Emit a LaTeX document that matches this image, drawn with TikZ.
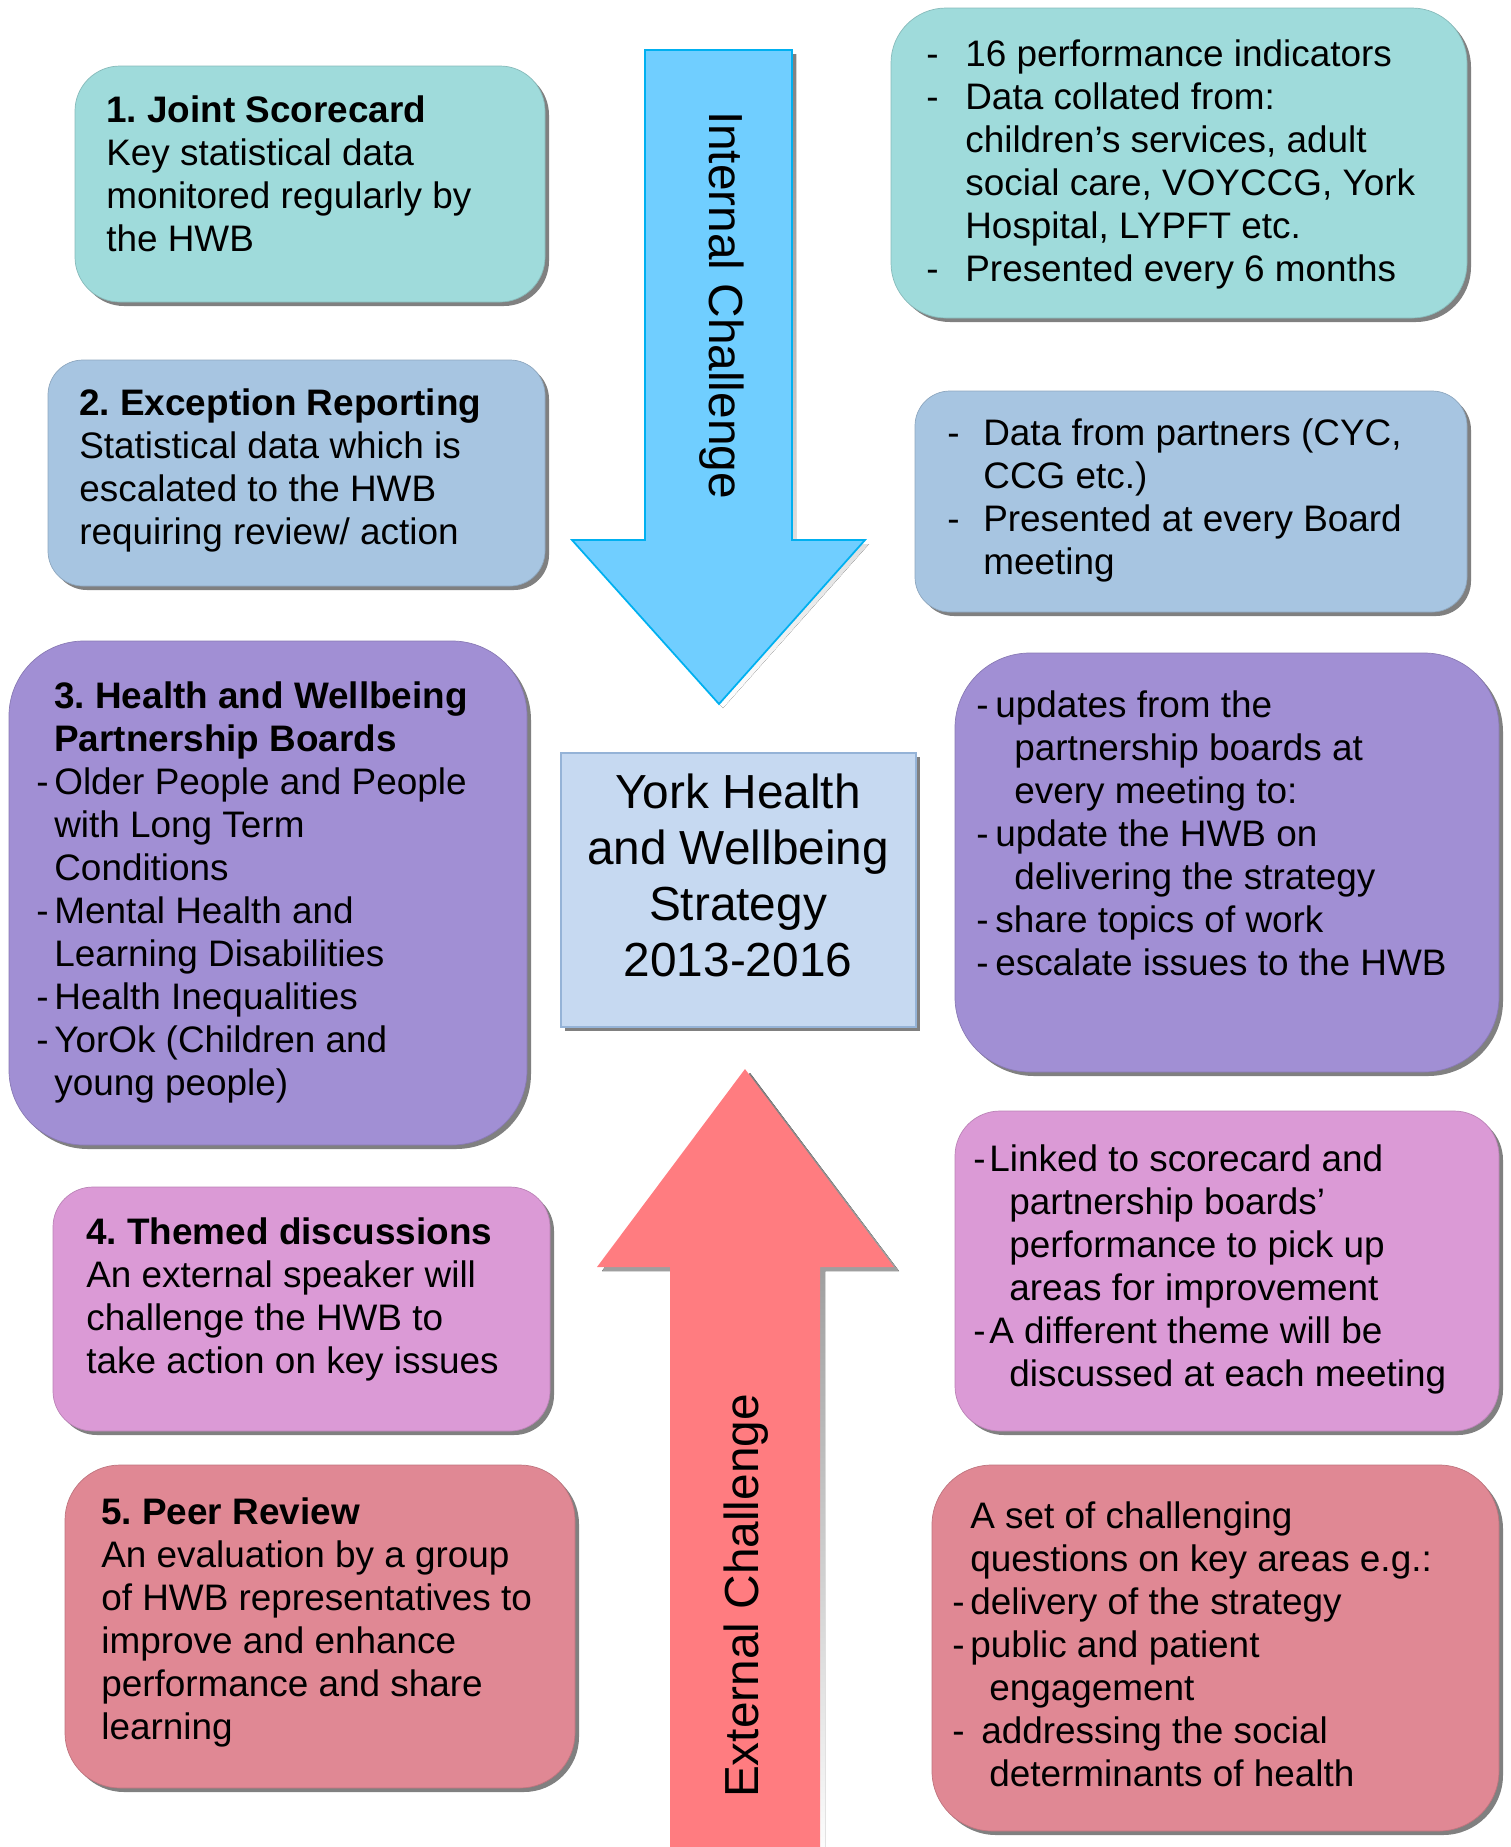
\documentclass[tikz,border=0pt]{standalone}
\usepackage{fontspec}
\setmainfont{Liberation Sans}
\usetikzlibrary{fit,shadows}
\frenchspacing

\definecolor{scoreteal}{RGB}{159,219,219}
\definecolor{excblue}{RGB}{167,197,225}
\definecolor{boardpurple}{RGB}{161,143,212}
\definecolor{themepink}{RGB}{219,154,214}
\definecolor{peerrose}{RGB}{224,136,148}
\definecolor{stratblue}{RGB}{198,217,241}
\definecolor{stratedge}{RGB}{149,179,215}
\definecolor{intblue}{RGB}{112,206,255}
\definecolor{intedge}{RGB}{0,176,240}
\definecolor{extred}{RGB}{255,124,128}
\definecolor{shade}{RGB}{128,128,128}

\newlength{\pu}\setlength{\pu}{0.02cm}
\newcommand{\bul}[2]{\makebox[#1\pu][l]{-}#2}
\newcommand{\indt}[2]{\hspace*{#1\pu}#2}

\tikzset{
  card/.style={rounded corners=#1, inner sep=0pt, line width=0.4pt,
    drop shadow={shadow xshift=0.08cm, shadow yshift=-0.08cm, fill=shade, opacity=1}},
  txt/.style={anchor=north west, inner sep=0pt, align=left,
    font=\fontsize{21}{24.5}\selectfont},
  bigtxt/.style={inner sep=0pt, font=\fontsize{27.2}{31.9}\selectfont}
}

\begin{document}
\begin{tikzpicture}[x=0.02cm, y=-0.02cm]
\useasboundingbox (0,0) rectangle (1511,1847);

%% arrows
\fill[shade, shift={(4,4)}] (645,50) -- (792,50) -- (792,540) -- (865,540) -- (719,704) -- (572,540) -- (645,540) -- cycle;
\draw[fill=intblue, draw=intedge, line width=1pt] (645,50) -- (792,50) -- (792,540) -- (865,540) -- (719,704) -- (572,540) -- (645,540) -- cycle;
\fill[shade, shift={(5,4)}] (670,1860) -- (670,1267) -- (597,1267) -- (745,1069) -- (894,1267) -- (820,1267) -- (820,1860) -- cycle;
\fill[extred] (670,1860) -- (670,1267) -- (597,1267) -- (745,1069) -- (894,1267) -- (820,1267) -- (820,1860) -- cycle;

\node[bigtxt, rotate=-90] (intlabel) at (722,305) {Internal Challenge};
\node[bigtxt, rotate=90] (extlabel) at (746,1596) {External Challenge};

%% boxes, left
\node[card=0.9cm, fill=scoreteal, draw=scoreteal!85!black, fit={(75,66) (545,302)}] (scorecard) {};
\node[card=0.7cm, fill=excblue, draw=excblue!85!black, fit={(48,360) (545,586)}] (exception) {};
\node[card=1.5cm, fill=boardpurple, draw=boardpurple!85!black, fit={(9,641) (527,1145)}] (boards) {};
\node[card=0.8cm, fill=themepink, draw=themepink!85!black, fit={(53,1187) (550,1431)}] (themed) {};
\node[card=1.1cm, fill=peerrose, draw=peerrose!85!black, fit={(65,1465) (575,1788)}] (peer) {};

%% boxes, right
\node[card=1.1cm, fill=scoreteal, draw=scoreteal!85!black, fit={(891,8) (1467,318)}] (indic) {};
\node[card=0.7cm, fill=excblue, draw=excblue!85!black, fit={(915,391) (1467,612)}] (partners) {};
\node[card=1.5cm, fill=boardpurple, draw=boardpurple!85!black, fit={(955,653) (1499,1072)}] (updates) {};
\node[card=0.9cm, fill=themepink, draw=themepink!85!black, fit={(955,1111) (1499,1431)}] (linked) {};
\node[card=1.2cm, fill=peerrose, draw=peerrose!85!black, fit={(932,1465) (1499,1831)}] (questions) {};

%% strategy
\node[card=0pt, fill=stratblue, draw=stratedge, line width=1pt, fit={(561,753) (916,1027)}] (strategy) {};
\node[bigtxt, align=center] (strattext) at (738,875) {York Health\\and Wellbeing\\Strategy\\2013-2016};

%% texts, left
\node[txt] (scoretext) at (106,95) {\textbf{1. Joint Scorecard}\\Key statistical data\\monitored regularly by\\the HWB};
\node[txt] (exctext) at (79,388) {\textbf{2. Exception Reporting}\\Statistical data which is\\escalated to the HWB\\requiring review/ action};
\node[txt] (boardtext) at (36,681) {\indt{18}{\textbf{3. Health and Wellbeing}}\\\indt{18}{\textbf{Partnership Boards}}\\\bul{18}{Older People and People}\\\indt{18}{with Long Term}\\\indt{18}{Conditions}\\\bul{18}{Mental Health and}\\\indt{18}{Learning Disabilities}\\\bul{18}{Health Inequalities}\\\bul{18}{YorOk (Children and}\\\indt{18}{young people)}};
\node[txt] (themetext) at (86,1217) {\textbf{4. Themed discussions}\\An external speaker will\\challenge the HWB to\\take action on key issues};
\node[txt] (peertext) at (101,1497) {\textbf{5. Peer Review}\\An evaluation by a group\\of HWB representatives to\\improve and enhance\\performance and share\\learning};

%% texts, right
\node[txt] (indictext) at (926,39) {\bul{39}{16 performance indicators}\\\bul{39}{Data collated from:}\\\indt{39}{children’s services, adult}\\\indt{39}{social care, VOYCCG, York}\\\indt{39}{Hospital, LYPFT etc.}\\\bul{39}{Presented every 6 months}};
\node[txt] (parttext) at (947,418) {\bul{36}{Data from partners (CYC,}\\\indt{36}{CCG etc.)}\\\bul{36}{Presented at every Board}\\\indt{36}{meeting}};
\node[txt] (updtext) at (976,690) {\bul{19}{updates from the}\\\indt{38}{partnership boards at}\\\indt{38}{every meeting to:}\\\bul{19}{update the HWB on}\\\indt{38}{delivering the strategy}\\\bul{19}{share topics of work}\\\bul{19}{escalate issues to the HWB}};
\node[txt] (linktext) at (973,1144) {\bul{16}{Linked to scorecard and}\\\indt{36}{partnership boards’}\\\indt{36}{performance to pick up}\\\indt{36}{areas for improvement}\\\bul{16}{A different theme will be}\\\indt{36}{discussed at each meeting}};
\node[txt] (questext) at (952,1501) {\indt{18}{A set of challenging}\\\indt{18}{questions on key areas e.g.:}\\\bul{18}{delivery of the strategy}\\\bul{18}{public and patient}\\\indt{37}{engagement}\\\bul{29}{addressing the social}\\\indt{37}{determinants of health}};

\end{tikzpicture}
\end{document}
